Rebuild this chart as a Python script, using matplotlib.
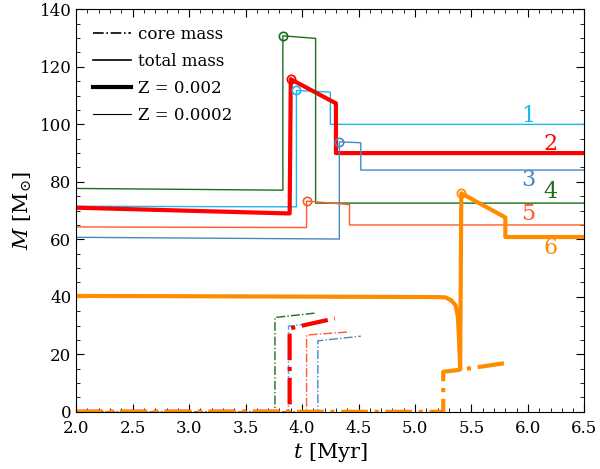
import matplotlib
matplotlib.use("Agg")
import matplotlib.pyplot as plt
from matplotlib.lines import Line2D
from matplotlib.ticker import MultipleLocator

plt.rcParams['font.family'] = ['DejaVu Serif']
plt.rcParams['mathtext.fontset'] = 'dejavuserif'

# total mass tracks (t in Myr, M in Msun)
t1 = [2.0, 3.95, 3.95, 4.25, 4.25, 6.5]
m1 = [71.5, 71.3, 111.8, 111.2, 100.0, 100.0]
t2 = [2.0, 3.89, 3.90, 4.30, 4.30, 6.5]
m2 = [71.0, 69.0, 115.7, 107.3, 90.0, 90.0]
t3 = [2.0, 4.33, 4.33, 4.52, 4.52, 6.5]
m3 = [60.7, 60.1, 93.9, 93.6, 84.1, 84.1]
t4 = [2.0, 3.83, 3.83, 4.12, 4.12, 6.5]
m4 = [77.7, 77.1, 130.8, 129.9, 72.6, 72.6]
t5 = [2.0, 4.04, 4.04, 4.42, 4.42, 6.5]
m5 = [64.3, 64.1, 73.3, 72.1, 65.0, 65.0]
t6 = [2.0, 3.0, 4.5, 5.20, 5.27, 5.32, 5.36, 5.38, 5.39, 5.40, 5.41, 5.80, 5.80, 6.5]
m6 = [40.3, 40.2, 40.0, 39.9, 39.8, 38.8, 37.0, 33.0, 25.0, 14.8, 76.0, 67.6, 60.8, 60.8]

# core mass tracks
tc1 = [2.0, 3.88, 3.88, 4.22]
mc1 = [0.0, 0.0, 29.8, 31.3]
tc2 = [2.0, 3.89, 3.89, 4.29]
mc2 = [0.0, 0.0, 29.0, 32.5]
tc3 = [2.0, 4.14, 4.14, 4.52]
mc3 = [0.0, 0.0, 24.7, 26.3]
tc4 = [2.0, 3.76, 3.76, 4.13]
mc4 = [0.0, 0.0, 32.8, 34.4]
tc5 = [2.0, 4.04, 4.04, 4.42]
mc5 = [0.0, 0.0, 26.7, 27.8]
tc6 = [2.0, 5.25, 5.25, 5.41, 5.81]
mc6 = [0.0, 0.0, 13.9, 14.7, 17.0]

# peak markers
peak_t = [3.95, 3.90, 4.33, 3.83, 4.04, 5.41]
peak_m = [111.8, 115.7, 93.9, 130.8, 73.3, 76.0]

labels = ['1', '2', '3', '4', '5', '6']
label_t = [6.0, 6.2, 6.0, 6.2, 6.0, 6.2]
label_m = [103.0, 93.3, 80.5, 76.3, 68.8, 57.0]

colors = ['#1cb8f0', '#ff0000', '#4a86c0', '#1a6e1a', '#ff5a2a', '#ff8c00']
thick = [False, True, False, False, False, True]

tracks = [(t1, m1), (t2, m2), (t3, m3), (t4, m4), (t5, m5), (t6, m6)]
cores = [(tc1, mc1), (tc2, mc2), (tc3, mc3), (tc4, mc4), (tc5, mc5), (tc6, mc6)]

fig = plt.figure(figsize=(6.0, 4.69), dpi=100)
ax = fig.add_axes([0.127, 0.122, 0.847, 0.858])

for i in range(6):
    lw = 3.0 if thick[i] else 1.0
    ax.plot(tracks[i][0], tracks[i][1], color=colors[i], lw=lw, zorder=2)
    ax.plot(cores[i][0], cores[i][1], color=colors[i], lw=lw, ls='-.', zorder=2)
    ax.plot(peak_t[i], peak_m[i], 'o', mfc='none', mec=colors[i], ms=6, mew=1.2, zorder=3)
    ax.text(label_t[i], label_m[i], labels[i], color=colors[i], fontsize=16,
            ha='center', va='center')

ax.set_xlim(2.0, 6.5)
ax.set_ylim(0, 140)
ax.xaxis.set_major_locator(MultipleLocator(0.5))
ax.xaxis.set_minor_locator(MultipleLocator(0.1))
ax.yaxis.set_major_locator(MultipleLocator(20))
ax.yaxis.set_minor_locator(MultipleLocator(5))
ax.tick_params(which='both', direction='in', top=True, right=True, labelsize=12)
ax.tick_params(which='major', length=6)
ax.tick_params(which='minor', length=3)
ax.tick_params(axis='x', pad=6)

ax.set_xlabel('$t$ [Myr]', fontsize=15, labelpad=3)
ax.set_ylabel(r'$M$ [M$_{\odot}$]', fontsize=15, labelpad=4)

handles = [Line2D([], [], color='k', ls='-.', lw=1.2),
           Line2D([], [], color='k', lw=1.2),
           Line2D([], [], color='k', lw=3),
           Line2D([], [], color='k', lw=0.8)]
ax.legend(handles, ['core mass', 'total mass', 'Z = 0.002', 'Z = 0.0002'],
          loc='upper left', frameon=False, fontsize=12, handlelength=2.3,
          handletextpad=0.4, labelspacing=0.6, borderaxespad=0.6)

fig.savefig('out.png', dpi=100)
